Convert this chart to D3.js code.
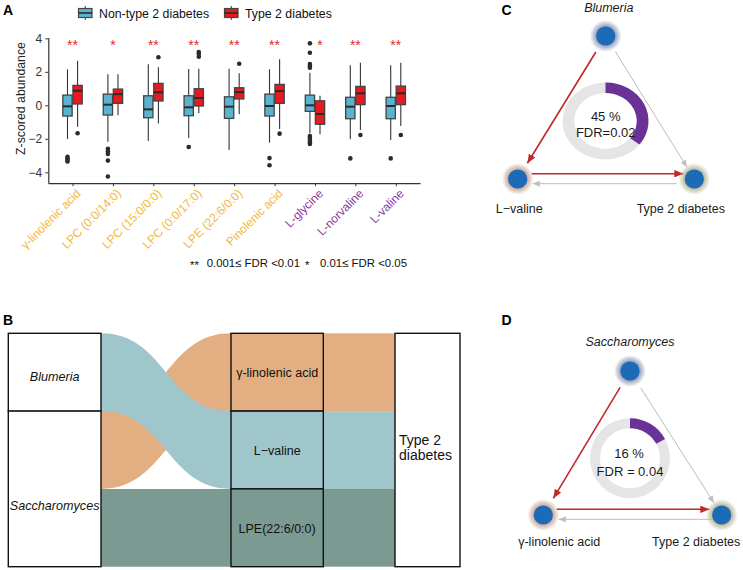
<!DOCTYPE html>
<html><head><meta charset="utf-8">
<script src="https://cdn.jsdelivr.net/npm/d3@7"></script>
<style>body{margin:0;background:#fff}svg{display:block;font-family:"Liberation Sans",Arial,sans-serif}</style>
</head><body><svg id="c" width="743" height="570"></svg>
<script>
// ================= DATA =================
const categories = ["γ-linolenic acid","LPC (0:0/14:0)","LPC (15:0/0:0)","LPC (0:0/17:0)","LPE (22:6/0:0)","Pinolenic acid","L-glycine","L-norvaline","L-valine"];
const categoryClass = ["lipid","lipid","lipid","lipid","lipid","lipid","amino","amino","amino"];
const groups = ["Non-type 2 diabetes","Type 2 diabetes"];
// [lower whisker, Q1, median, Q3, upper whisker]
const nonT2DStats = [
  [-2.01,-0.64,-0.06,0.61,2.15],[-2.17,-0.58,0.04,0.67,1.85],[-2.13,-0.74,-0.24,0.57,2.45],
  [-1.95,-0.62,-0.12,0.57,2.17],[-2.67,-0.78,-0.08,0.51,2.19],[-2.23,-0.64,-0.04,0.67,2.15],
  [-1.67,-0.36,0.00,0.61,1.95],[-2.03,-0.80,-0.08,0.48,2.39],[-2.07,-0.80,-0.04,0.48,2.39]];
const nonT2DOutliers = [
  [-3.08,-3.16,-3.25,-3.35],[-2.60,-2.75,-2.90,-3.30,-4.25],[],[-2.49],[],[-3.15,-3.58],
  [3.70,3.14,2.47,2.35,2.25,-1.83,-1.93,-2.07,-2.21,-2.31],[-3.17],[-3.17]];
const t2dStats = [
  [-1.28,0.08,0.87,1.19,2.66],[-0.60,0.12,0.67,0.97,1.85],[-1.08,0.26,0.78,1.31,2.27],
  [-0.48,-0.04,0.44,0.99,2.19],[-0.54,0.38,0.79,1.05,1.91],[-1.42,0.12,0.85,1.25,2.75],
  [-1.73,-1.13,-0.52,0.27,0.57],[-1.47,0.04,0.72,1.13,2.54],[-1.24,0.04,0.72,1.15,2.54]];
const t2dOutliers = [[-1.67],[],[2.87],[2.90,3.06,3.18],[2.48],[-1.69],[],[-1.77],[-1.77]];
const significance = ["**","*","**","**","**","**","*","**","**"];
const yTicks = [-4,-2,0,2,4];
const fdrNote = [["**","0.001≤ FDR <0.01"],["*","0.01≤ FDR <0.05"]];

// Panel B (alluvial)
const genera = ["Blumeria","Saccharomyces"];
const metabolites = ["γ-linolenic acid","L\u2212valine","LPE(22:6/0:0)"];
const links = [["Blumeria","L\u2212valine",1],["Saccharomyces","γ-linolenic acid",1],["Saccharomyces","LPE(22:6/0:0)",1]];
const outcome = ["Type 2","diabetes"];

// Panels C, D (mediation)
const medLabels = [["Blumeria","L\u2212valine","Type 2 diabetes"],["Saccharomyces","γ-linolenic acid","Type 2 diabetes"]];
const medPercent = ["45 %","16 %"];
const medFDR = ["FDR=0.02","FDR = 0.04"];
const medArc = [0.355,0.17];

// ================= COLORS =================
const boxFill = {"Non-type 2 diabetes":"#5BB4CF","Type 2 diabetes":"#E8191F"};
const classColor = {lipid:"#F4B740",amino:"#8B3A9E"};
const metaboliteColors = ["#E3AE82","#9FC6CA","#7B9A92"];

const svg = d3.select("#c");
const defs = svg.append("defs");

// ================= PANEL A =================
const A = {left:48.3,right:420,top:37.5,bottom:183.2};
const x = d3.scalePoint().domain(categories).range([A.left,A.right]).padding(0.6);
const step = x.step();
const y = d3.scaleLinear().domain([-4.65,4.05]).range([A.bottom,A.top]);
const dodge = d3.scaleBand().domain(groups).range([-0.25*step,0.25*step]);
const bw = dodge.bandwidth()*0.92;

const gA = svg.append("g");
const yAx = gA.append("g").attr("transform",`translate(${A.left},0)`)
  .call(d3.axisLeft(y).tickValues(yTicks).tickSize(3).tickSizeOuter(0).tickPadding(3)
    .tickFormat(d=>d<0?"\u2212"+Math.abs(d):d));
const xAx = gA.append("g").attr("transform",`translate(0,${A.bottom})`)
  .call(d3.axisBottom(x).tickSize(3).tickSizeOuter(0));
[yAx,xAx].forEach(a=>{a.select(".domain").attr("stroke","#333").attr("stroke-width",1.2);
  a.selectAll(".tick line").attr("stroke","#333").attr("stroke-width",1);});
yAx.selectAll("text").attr("font-size","12px").attr("fill","#333").attr("font-family","Liberation Sans, Arial");
xAx.selectAll("text").attr("font-size","12px").attr("font-family","Liberation Sans, Arial")
  .attr("text-anchor","end").attr("dy",null).attr("y",0)
  .attr("transform","translate(8.4,11) rotate(-45)")
  .attr("fill",(d,i)=>classColor[categoryClass[i]]);

gA.append("text").attr("transform","translate(25,98.5) rotate(-90)").attr("text-anchor","middle")
  .attr("font-size","12.3px").attr("fill","#222").text("Z-scored abundance");

const statsByGroup = {"Non-type 2 diabetes":[nonT2DStats,nonT2DOutliers],"Type 2 diabetes":[t2dStats,t2dOutliers]};
categories.forEach((cat,i)=>{
  groups.forEach(g=>{
    const [st,ou] = statsByGroup[g];
    const s = st[i];
    const cx = x(cat)+dodge(g)+dodge.bandwidth()/2;
    const gg = gA.append("g");
    gg.append("line").attr("x1",cx).attr("x2",cx).attr("y1",y(s[0])).attr("y2",y(s[4]))
      .attr("stroke","#333").attr("stroke-width",1.1);
    gg.append("rect").attr("x",cx-bw/2).attr("width",bw).attr("y",y(s[3])).attr("height",y(s[1])-y(s[3]))
      .attr("fill",boxFill[g]).attr("stroke","#444").attr("stroke-width",1.3);
    gg.append("line").attr("x1",cx-bw/2).attr("x2",cx+bw/2).attr("y1",y(s[2])).attr("y2",y(s[2]))
      .attr("stroke","#2a2a2a").attr("stroke-width",2);
    gg.selectAll("circle").data(ou[i]).join("circle").attr("cx",cx).attr("cy",d=>y(d)).attr("r",2.3).attr("fill","#2b2b2b");
  });
  // star placement: above the group, or above the T2D box when Non-T2D outliers reach the top
  const high = d3.max(nonT2DOutliers[i].concat([nonT2DStats[i][4]]));
  const sx = high>3.5 ? x(cat)+dodge("Type 2 diabetes")+dodge.bandwidth()/2 : x(cat);
  gA.append("text").attr("x",sx).attr("y",50).attr("text-anchor","middle").attr("font-size","14px")
    .attr("fill","#E8262C").text(significance[i]);
});

// legend
const legX = [[78.5,99],[224.5,245]];
groups.forEach((g,i)=>{
  const lx = legX[i][0], cx = lx+6.75;
  gA.append("line").attr("x1",cx).attr("x2",cx).attr("y1",6).attr("y2",20).attr("stroke","#333").attr("stroke-width",1);
  gA.append("rect").attr("x",lx).attr("y",8.5).attr("width",13.5).attr("height",9).attr("fill",boxFill[g]).attr("stroke","#444").attr("stroke-width",1.2);
  gA.append("line").attr("x1",lx).attr("x2",lx+13.5).attr("y1",13).attr("y2",13).attr("stroke","#2a2a2a").attr("stroke-width",1.6);
  gA.append("text").attr("x",legX[i][1]).attr("y",17.5).attr("font-size","12.3px").attr("fill","#111").text(g);
});

// FDR note
const note = gA.append("text").attr("y",266.5).attr("font-size","11.4px").attr("fill","#111");
const noteX = [[190,206.7],[305,320]];
fdrNote.forEach((n,i)=>{
  note.append("tspan").attr("x",noteX[i][0]).attr("dy",i?0:0).attr("y",269).text(n[0]);
  note.append("tspan").attr("x",noteX[i][1]).attr("y",266.5).text(n[1]);
});

svg.append("text").attr("x",3).attr("y",15).attr("font-size","14px").attr("font-weight","bold").text("A");

// ================= PANEL B =================
const gB = svg.append("g");
const yB = d3.scaleLinear().domain([0,3]).range([333.3,566.7]);
const colL = [8.3,101], colM = [231,323.3], colR = [395,460];
// stratum extents
const genusTotal = genera.map(g=>d3.sum(links.filter(l=>l[0]===g),l=>l[2]));
const genusStart = genusTotal.map((v,i)=>d3.sum(genusTotal.slice(0,i)));
const metTotal = metabolites.map(m=>d3.sum(links.filter(l=>l[1]===m),l=>l[2]));
const metStart = metTotal.map((v,i)=>d3.sum(metTotal.slice(0,i)));
// flow segments
const usedL = genera.map(()=>0);
const flows = [];
genera.forEach((g,gi)=>{
  links.filter(l=>l[0]===g).sort((a,b)=>metabolites.indexOf(a[1])-metabolites.indexOf(b[1])).forEach(l=>{
    const mi = metabolites.indexOf(l[1]);
    const l0 = genusStart[gi]+usedL[gi]; usedL[gi]+=l[2];
    flows.push({g,mi,l0,l1:l0+l[2],m0:metStart[mi],m1:metStart[mi]+l[2]});
  });
});
function ribbon(x0,a0,b0,x1,a1,b1){const xm=(x0+x1)/2;
  return `M${x0},${a0}C${xm},${a0} ${xm},${a1} ${x1},${a1}L${x1},${b1}C${xm},${b1} ${xm},${b0} ${x0},${b0}Z`;}
// draw lower-ranked genus flows first so that the first genus is on top
flows.slice().reverse().forEach(f=>{
  gB.append("path").attr("d",ribbon(colL[1],yB(f.l0),yB(f.l1),colM[0],yB(f.m0),yB(f.m1))).attr("fill",metaboliteColors[f.mi]);
});
metabolites.forEach((m,i)=>{
  gB.append("rect").attr("x",colM[1]).attr("width",colR[0]-colM[1]).attr("y",yB(metStart[i])).attr("height",yB(metStart[i]+metTotal[i])-yB(metStart[i])).attr("fill",metaboliteColors[i]);
  gB.append("rect").attr("x",colM[0]).attr("width",colM[1]-colM[0]).attr("y",yB(metStart[i])).attr("height",yB(metStart[i]+metTotal[i])-yB(metStart[i]))
    .attr("fill",metaboliteColors[i]).attr("stroke","#111").attr("stroke-width",1.4);
  gB.append("text").attr("x",(colM[0]+colM[1])/2).attr("y",(yB(metStart[i])+yB(metStart[i]+metTotal[i]))/2+5)
    .attr("text-anchor","middle").attr("font-size","12.5px").attr("fill","#111").text(m);
});
const genusLabelDy = [8.5,21];
genera.forEach((g,i)=>{
  const y0=yB(genusStart[i]), y1=yB(genusStart[i]+genusTotal[i]);
  gB.append("rect").attr("x",colL[0]).attr("width",colL[1]-colL[0]).attr("y",y0).attr("height",y1-y0).attr("fill","#fff").attr("stroke","#111").attr("stroke-width",1.4);
  gB.append("text").attr("x",(colL[0]+colL[1])/2).attr("y",(y0+y1)/2+genusLabelDy[i]).attr("text-anchor","middle")
    .attr("font-size","12.6px").attr("font-style","italic").attr("fill","#111").text(g);
});
gB.append("rect").attr("x",colR[0]).attr("width",colR[1]-colR[0]).attr("y",yB(0)).attr("height",yB(3)-yB(0)).attr("fill","#fff").attr("stroke","#111").attr("stroke-width",1.4);
outcome.forEach((t,i)=>gB.append("text").attr("x",399).attr("y",445+15*i).attr("font-size","14px").attr("fill","#111").text(t));
svg.append("text").attr("x",3).attr("y",325).attr("font-size","14px").attr("font-weight","bold").text("B");

// ================= PANELS C, D =================
const glowColors = {exp:"#8C98B8",med:"#C6A395",out:"#B4B494"};
Object.entries(glowColors).forEach(([k,c])=>{
  const g = defs.append("radialGradient").attr("id","glow-"+k);
  g.append("stop").attr("offset","0%").attr("stop-color",c).attr("stop-opacity",1);
  g.append("stop").attr("offset","58%").attr("stop-color",c).attr("stop-opacity",0.95);
  g.append("stop").attr("offset","100%").attr("stop-color",c).attr("stop-opacity",0);
});
function marker(id,color,len,wid){
  defs.append("marker").attr("id",id).attr("markerUnits","userSpaceOnUse").attr("viewBox",`0 0 ${len} ${wid}`)
    .attr("refX",len).attr("refY",wid/2).attr("markerWidth",len).attr("markerHeight",wid).attr("orient","auto")
    .append("path").attr("d",`M0,0L${len},${wid/2}L0,${wid}Z`).attr("fill",color);
}
marker("arR","#C1272D",9,7.5);
marker("arG","#BDBDBD",7,6);

const layouts = [
  {letter:"C",lx:501.5,ly:15,top:[605.7,36],left:[517.7,179],right:[694.3,179],donut:[605.5,121],ry:38.5,sx:43/38.5,thick:10.5,
   labTop:[608.8,11.5],labL:[519.3,213],labR:[680.8,213],pct:[605.7,120.7],fdr:[605.7,136.7],
   red1:[18.8,18.5],gray1:[18.2,14],redH:[-5.3,14,11],grayH:[4.7,17.6,15]},
  {letter:"D",lx:501.5,ly:325,top:[630,371],left:[543.3,515],right:[721.7,515],donut:[630,458.3],ry:40,sx:1,thick:10,
   labTop:[630,345.5],labL:[559.2,546],labR:[696.2,546],pct:[629,457.7],fdr:[630,476],
   red1:[19.2,19.5],gray1:[20,14.6],redH:[-5.7,13.4,12.4],grayH:[4.3,10,15.5]}
];
function seg(p,q,s0,s1){const dx=q[0]-p[0],dy=q[1]-p[1],L=Math.hypot(dx,dy);
  return [p[0]+dx*s0/L,p[1]+dy*s0/L,q[0]-dx*s1/L,q[1]-dy*s1/L];}
layouts.forEach((L,k)=>{
  const g = svg.append("g");
  // donut
  const dg = g.append("g").attr("transform",`translate(${L.donut[0]},${L.donut[1]}) scale(${L.sx},1)`);
  const arc = d3.arc().innerRadius(L.ry-L.thick).outerRadius(L.ry);
  dg.append("path").attr("d",arc({startAngle:0,endAngle:2*Math.PI})).attr("fill","#E5E5E5");
  dg.append("path").attr("d",arc({startAngle:0,endAngle:2*Math.PI*medArc[k]})).attr("fill","#6A3296");
  g.append("text").attr("x",L.pct[0]).attr("y",L.pct[1]).attr("text-anchor","middle").attr("font-size","13px").attr("fill","#1a1a1a").text(medPercent[k]);
  g.append("text").attr("x",L.fdr[0]).attr("y",L.fdr[1]).attr("text-anchor","middle").attr("font-size","13px").attr("fill","#1a1a1a").text(medFDR[k]);
  // arrows
  const r1 = seg(L.top,L.left,L.red1[0],L.red1[1]);
  g.append("line").attr("x1",r1[0]).attr("y1",r1[1]).attr("x2",r1[2]).attr("y2",r1[3]).attr("stroke","#C1272D").attr("stroke-width",1.6).attr("marker-end","url(#arR)");
  const g1 = seg(L.top,L.right,L.gray1[0],L.gray1[1]);
  g.append("line").attr("x1",g1[0]).attr("y1",g1[1]).attr("x2",g1[2]).attr("y2",g1[3]).attr("stroke","#BDBDBD").attr("stroke-width",1).attr("marker-end","url(#arG)");
  const yr = L.left[1]+L.redH[0];
  g.append("line").attr("x1",L.left[0]+L.redH[1]).attr("y1",yr).attr("x2",L.right[0]-L.redH[2]).attr("y2",yr).attr("stroke","#C1272D").attr("stroke-width",1.6).attr("marker-end","url(#arR)");
  const yg = L.left[1]+L.grayH[0];
  g.append("line").attr("x1",L.right[0]-L.grayH[1]).attr("y1",yg).attr("x2",L.left[0]+L.grayH[2]).attr("y2",yg).attr("stroke","#BDBDBD").attr("stroke-width",1).attr("marker-end","url(#arG)");
  // nodes
  [[L.top,"exp"],[L.left,"med"],[L.right,"out"]].forEach(([p,c])=>{
    g.append("circle").attr("cx",p[0]).attr("cy",p[1]).attr("r",16).attr("fill",`url(#glow-${c})`);
    g.append("circle").attr("cx",p[0]).attr("cy",p[1]).attr("r",9.6).attr("fill","#1C6BB6");
  });
  const labs = medLabels[k];
  g.append("text").attr("x",L.labTop[0]).attr("y",L.labTop[1]).attr("text-anchor","middle").attr("font-style","italic").attr("font-size","12.5px").attr("fill","#1a1a1a").text(labs[0]);
  g.append("text").attr("x",L.labL[0]).attr("y",L.labL[1]).attr("text-anchor","middle").attr("font-size","12.5px").attr("fill","#1a1a1a").text(labs[1]);
  g.append("text").attr("x",L.labR[0]).attr("y",L.labR[1]).attr("text-anchor","middle").attr("font-size","12.5px").attr("fill","#1a1a1a").text(labs[2]);
  svg.append("text").attr("x",L.lx).attr("y",L.ly).attr("font-size","14px").attr("font-weight","bold").text(L.letter);
});
</script></body></html>
